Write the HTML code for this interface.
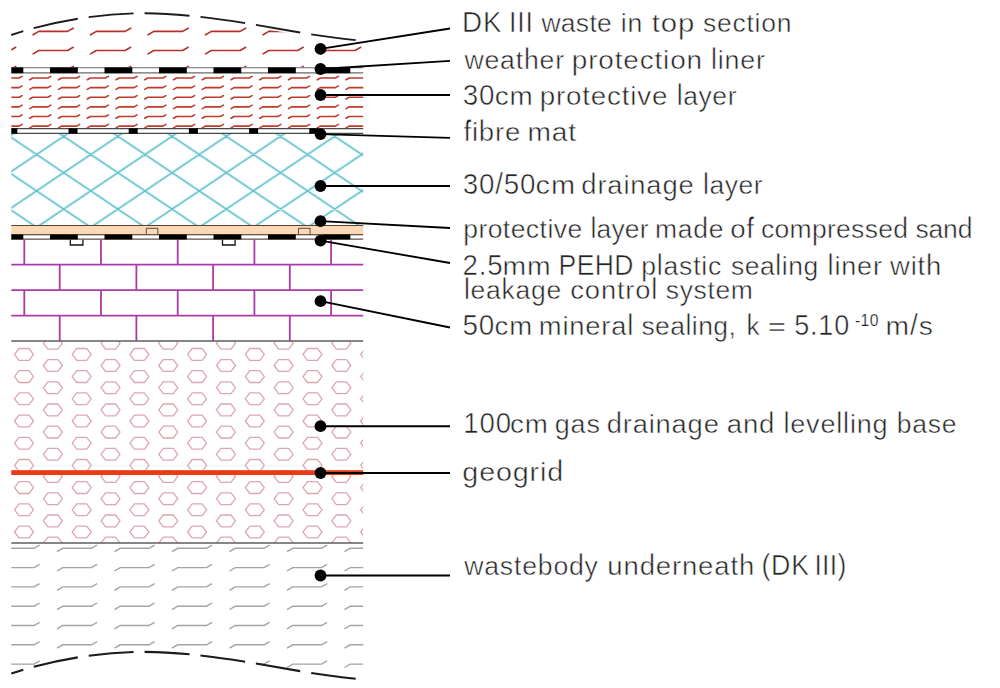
<!DOCTYPE html>
<html><head><meta charset="utf-8"><title>Landfill capping cross-section</title>
<style>
html,body{margin:0;padding:0;background:#fff;}
body{width:1000px;height:688px;overflow:hidden;font-family:"Liberation Sans",sans-serif;}
svg{display:block;}
text{font-family:"Liberation Sans",sans-serif;fill:#242424;}
</style></head><body>
<svg width="1000" height="688" viewBox="0 0 1000 688">
<rect width="1000" height="688" fill="#fff"/>
<defs>
<clipPath id="cTop"><path transform="translate(0,2.5)" d="M-30,54 C-10,44 0,39 11.3,35 C40,25 90,13.6 140,13.3 C195,13 250,24 300,32.5 C320,36 340,38.5 357,40.3 L380,42 L380,65 L-30,65 Z"/></clipPath>
<clipPath id="cBox"><rect x="11.3" y="0" width="351.9" height="688"/></clipPath>
<clipPath id="cProt"><rect x="11.3" y="73" width="351.9" height="55.5"/></clipPath>
<clipPath id="cDrain"><rect x="11.3" y="133.5" width="351.9" height="92"/></clipPath>
<clipPath id="cHex"><rect x="11.3" y="341" width="351.9" height="202"/></clipPath>
<clipPath id="cBot"><path d="M11.3,543 L363.2,543 L363.2,681 C340,677 320,674.6 300,671.1 C250,662.6 195,651.6 140,651.9 C90,652.2 40,663.6 11.3,673.6 Z"/></clipPath>
<filter id="soft" x="-2%" y="-2%" width="104%" height="104%"><feGaussianBlur stdDeviation="0.38"/></filter>
</defs>
<g filter="url(#soft)">
<g clip-path="url(#cBox)"><path clip-path="url(#cTop)" d="M-24.40,34.80 L-18.70,31.40 L10.10,31.40 L15.70,28.20 M33.10,34.80 L38.80,31.40 L67.60,31.40 L73.20,28.20 M90.60,34.80 L96.30,31.40 L125.10,31.40 L130.70,28.20 M148.10,34.80 L153.80,31.40 L182.60,31.40 L188.20,28.20 M205.60,34.80 L211.30,31.40 L240.10,31.40 L245.70,28.20 M263.10,34.80 L268.80,31.40 L297.60,31.40 L303.20,28.20 M320.60,34.80 L326.30,31.40 L355.10,31.40 L360.70,28.20 M378.10,34.80 L383.80,31.40 L412.60,31.40 L418.20,28.20 M435.60,34.80 L441.30,31.40 L470.10,31.40 L475.70,28.20 M-24.40,53.90 L-18.70,50.50 L10.10,50.50 L15.70,47.30 M33.10,53.90 L38.80,50.50 L67.60,50.50 L73.20,47.30 M90.60,53.90 L96.30,50.50 L125.10,50.50 L130.70,47.30 M148.10,53.90 L153.80,50.50 L182.60,50.50 L188.20,47.30 M205.60,53.90 L211.30,50.50 L240.10,50.50 L245.70,47.30 M263.10,53.90 L268.80,50.50 L297.60,50.50 L303.20,47.30 M320.60,53.90 L326.30,50.50 L355.10,50.50 L360.70,47.30 M378.10,53.90 L383.80,50.50 L412.60,50.50 L418.20,47.30 M435.60,53.90 L441.30,50.50 L470.10,50.50 L475.70,47.30 M-24.40,73.00 L-18.70,69.60 L10.10,69.60 L15.70,66.40 M33.10,73.00 L38.80,69.60 L67.60,69.60 L73.20,66.40 M90.60,73.00 L96.30,69.60 L125.10,69.60 L130.70,66.40 M148.10,73.00 L153.80,69.60 L182.60,69.60 L188.20,66.40 M205.60,73.00 L211.30,69.60 L240.10,69.60 L245.70,66.40 M263.10,73.00 L268.80,69.60 L297.60,69.60 L303.20,66.40 M320.60,73.00 L326.30,69.60 L355.10,69.60 L360.70,66.40 M378.10,73.00 L383.80,69.60 L412.60,69.60 L418.20,66.40 M435.60,73.00 L441.30,69.60 L470.10,69.60 L475.70,66.40" fill="none" stroke="#b3322a" stroke-width="1.6" stroke-linejoin="round" stroke-linecap="round"/></g>
<path clip-path="url(#cProt)" d="M1.05,79.78 L4.04,78.00 L19.16,78.00 L22.10,76.32 M29.80,79.78 L32.79,78.00 L47.91,78.00 L50.85,76.32 M58.55,79.78 L61.54,78.00 L76.66,78.00 L79.60,76.32 M87.30,79.78 L90.29,78.00 L105.41,78.00 L108.35,76.32 M116.05,79.78 L119.04,78.00 L134.16,78.00 L137.10,76.32 M144.80,79.78 L147.79,78.00 L162.91,78.00 L165.85,76.32 M173.55,79.78 L176.54,78.00 L191.66,78.00 L194.60,76.32 M202.30,79.78 L205.29,78.00 L220.41,78.00 L223.35,76.32 M231.05,79.78 L234.04,78.00 L249.16,78.00 L252.10,76.32 M259.80,79.78 L262.79,78.00 L277.91,78.00 L280.85,76.32 M288.55,79.78 L291.54,78.00 L306.66,78.00 L309.60,76.32 M317.30,79.78 L320.29,78.00 L335.41,78.00 L338.35,76.32 M346.05,79.78 L349.04,78.00 L364.16,78.00 L367.10,76.32 M374.80,79.78 L377.79,78.00 L392.91,78.00 L395.85,76.32 M403.55,79.78 L406.54,78.00 L421.66,78.00 L424.60,76.32 M1.05,89.41 L4.04,87.62 L19.16,87.62 L22.10,85.94 M29.80,89.41 L32.79,87.62 L47.91,87.62 L50.85,85.94 M58.55,89.41 L61.54,87.62 L76.66,87.62 L79.60,85.94 M87.30,89.41 L90.29,87.62 L105.41,87.62 L108.35,85.94 M116.05,89.41 L119.04,87.62 L134.16,87.62 L137.10,85.94 M144.80,89.41 L147.79,87.62 L162.91,87.62 L165.85,85.94 M173.55,89.41 L176.54,87.62 L191.66,87.62 L194.60,85.94 M202.30,89.41 L205.29,87.62 L220.41,87.62 L223.35,85.94 M231.05,89.41 L234.04,87.62 L249.16,87.62 L252.10,85.94 M259.80,89.41 L262.79,87.62 L277.91,87.62 L280.85,85.94 M288.55,89.41 L291.54,87.62 L306.66,87.62 L309.60,85.94 M317.30,89.41 L320.29,87.62 L335.41,87.62 L338.35,85.94 M346.05,89.41 L349.04,87.62 L364.16,87.62 L367.10,85.94 M374.80,89.41 L377.79,87.62 L392.91,87.62 L395.85,85.94 M403.55,89.41 L406.54,87.62 L421.66,87.62 L424.60,85.94 M1.05,99.02 L4.04,97.24 L19.16,97.24 L22.10,95.56 M29.80,99.02 L32.79,97.24 L47.91,97.24 L50.85,95.56 M58.55,99.02 L61.54,97.24 L76.66,97.24 L79.60,95.56 M87.30,99.02 L90.29,97.24 L105.41,97.24 L108.35,95.56 M116.05,99.02 L119.04,97.24 L134.16,97.24 L137.10,95.56 M144.80,99.02 L147.79,97.24 L162.91,97.24 L165.85,95.56 M173.55,99.02 L176.54,97.24 L191.66,97.24 L194.60,95.56 M202.30,99.02 L205.29,97.24 L220.41,97.24 L223.35,95.56 M231.05,99.02 L234.04,97.24 L249.16,97.24 L252.10,95.56 M259.80,99.02 L262.79,97.24 L277.91,97.24 L280.85,95.56 M288.55,99.02 L291.54,97.24 L306.66,97.24 L309.60,95.56 M317.30,99.02 L320.29,97.24 L335.41,97.24 L338.35,95.56 M346.05,99.02 L349.04,97.24 L364.16,97.24 L367.10,95.56 M374.80,99.02 L377.79,97.24 L392.91,97.24 L395.85,95.56 M403.55,99.02 L406.54,97.24 L421.66,97.24 L424.60,95.56 M1.05,108.64 L4.04,106.86 L19.16,106.86 L22.10,105.18 M29.80,108.64 L32.79,106.86 L47.91,106.86 L50.85,105.18 M58.55,108.64 L61.54,106.86 L76.66,106.86 L79.60,105.18 M87.30,108.64 L90.29,106.86 L105.41,106.86 L108.35,105.18 M116.05,108.64 L119.04,106.86 L134.16,106.86 L137.10,105.18 M144.80,108.64 L147.79,106.86 L162.91,106.86 L165.85,105.18 M173.55,108.64 L176.54,106.86 L191.66,106.86 L194.60,105.18 M202.30,108.64 L205.29,106.86 L220.41,106.86 L223.35,105.18 M231.05,108.64 L234.04,106.86 L249.16,106.86 L252.10,105.18 M259.80,108.64 L262.79,106.86 L277.91,106.86 L280.85,105.18 M288.55,108.64 L291.54,106.86 L306.66,106.86 L309.60,105.18 M317.30,108.64 L320.29,106.86 L335.41,106.86 L338.35,105.18 M346.05,108.64 L349.04,106.86 L364.16,106.86 L367.10,105.18 M374.80,108.64 L377.79,106.86 L392.91,106.86 L395.85,105.18 M403.55,108.64 L406.54,106.86 L421.66,106.86 L424.60,105.18 M1.05,118.26 L4.04,116.48 L19.16,116.48 L22.10,114.80 M29.80,118.26 L32.79,116.48 L47.91,116.48 L50.85,114.80 M58.55,118.26 L61.54,116.48 L76.66,116.48 L79.60,114.80 M87.30,118.26 L90.29,116.48 L105.41,116.48 L108.35,114.80 M116.05,118.26 L119.04,116.48 L134.16,116.48 L137.10,114.80 M144.80,118.26 L147.79,116.48 L162.91,116.48 L165.85,114.80 M173.55,118.26 L176.54,116.48 L191.66,116.48 L194.60,114.80 M202.30,118.26 L205.29,116.48 L220.41,116.48 L223.35,114.80 M231.05,118.26 L234.04,116.48 L249.16,116.48 L252.10,114.80 M259.80,118.26 L262.79,116.48 L277.91,116.48 L280.85,114.80 M288.55,118.26 L291.54,116.48 L306.66,116.48 L309.60,114.80 M317.30,118.26 L320.29,116.48 L335.41,116.48 L338.35,114.80 M346.05,118.26 L349.04,116.48 L364.16,116.48 L367.10,114.80 M374.80,118.26 L377.79,116.48 L392.91,116.48 L395.85,114.80 M403.55,118.26 L406.54,116.48 L421.66,116.48 L424.60,114.80 M1.05,127.88 L4.04,126.10 L19.16,126.10 L22.10,124.42 M29.80,127.88 L32.79,126.10 L47.91,126.10 L50.85,124.42 M58.55,127.88 L61.54,126.10 L76.66,126.10 L79.60,124.42 M87.30,127.88 L90.29,126.10 L105.41,126.10 L108.35,124.42 M116.05,127.88 L119.04,126.10 L134.16,126.10 L137.10,124.42 M144.80,127.88 L147.79,126.10 L162.91,126.10 L165.85,124.42 M173.55,127.88 L176.54,126.10 L191.66,126.10 L194.60,124.42 M202.30,127.88 L205.29,126.10 L220.41,126.10 L223.35,124.42 M231.05,127.88 L234.04,126.10 L249.16,126.10 L252.10,124.42 M259.80,127.88 L262.79,126.10 L277.91,126.10 L280.85,124.42 M288.55,127.88 L291.54,126.10 L306.66,126.10 L309.60,124.42 M317.30,127.88 L320.29,126.10 L335.41,126.10 L338.35,124.42 M346.05,127.88 L349.04,126.10 L364.16,126.10 L367.10,124.42 M374.80,127.88 L377.79,126.10 L392.91,126.10 L395.85,124.42 M403.55,127.88 L406.54,126.10 L421.66,126.10 L424.60,124.42 M1.05,137.50 L4.04,135.72 L19.16,135.72 L22.10,134.04 M29.80,137.50 L32.79,135.72 L47.91,135.72 L50.85,134.04 M58.55,137.50 L61.54,135.72 L76.66,135.72 L79.60,134.04 M87.30,137.50 L90.29,135.72 L105.41,135.72 L108.35,134.04 M116.05,137.50 L119.04,135.72 L134.16,135.72 L137.10,134.04 M144.80,137.50 L147.79,135.72 L162.91,135.72 L165.85,134.04 M173.55,137.50 L176.54,135.72 L191.66,135.72 L194.60,134.04 M202.30,137.50 L205.29,135.72 L220.41,135.72 L223.35,134.04 M231.05,137.50 L234.04,135.72 L249.16,135.72 L252.10,134.04 M259.80,137.50 L262.79,135.72 L277.91,135.72 L280.85,134.04 M288.55,137.50 L291.54,135.72 L306.66,135.72 L309.60,134.04 M317.30,137.50 L320.29,135.72 L335.41,135.72 L338.35,134.04 M346.05,137.50 L349.04,135.72 L364.16,135.72 L367.10,134.04 M374.80,137.50 L377.79,135.72 L392.91,135.72 L395.85,134.04 M403.55,137.50 L406.54,135.72 L421.66,135.72 L424.60,134.04" fill="none" stroke="#c13a29" stroke-width="1.55" stroke-linejoin="round" stroke-linecap="round"/>
<g clip-path="url(#cDrain)"><path d="M-382.26,128 L-230.38,230 M-357.54,128 L-509.42,230 M-328.06,128 L-176.18,230 M-303.34,128 L-455.22,230 M-273.86,128 L-121.98,230 M-249.14,128 L-401.02,230 M-219.66,128 L-67.78,230 M-194.94,128 L-346.82,230 M-165.46,128 L-13.58,230 M-140.74,128 L-292.62,230 M-111.26,128 L40.62,230 M-86.54,128 L-238.42,230 M-57.06,128 L94.82,230 M-32.34,128 L-184.22,230 M-2.86,128 L149.02,230 M21.86,128 L-130.02,230 M51.34,128 L203.22,230 M76.06,128 L-75.82,230 M105.54,128 L257.42,230 M130.26,128 L-21.62,230 M159.74,128 L311.62,230 M184.46,128 L32.58,230 M213.94,128 L365.82,230 M238.66,128 L86.78,230 M268.14,128 L420.02,230 M292.86,128 L140.98,230 M322.34,128 L474.22,230 M347.06,128 L195.18,230 M376.54,128 L528.42,230 M401.26,128 L249.38,230 M430.74,128 L582.62,230 M455.46,128 L303.58,230 M484.94,128 L636.82,230 M509.66,128 L357.78,230 M539.14,128 L691.02,230 M563.86,128 L411.98,230 M593.34,128 L745.22,230 M618.06,128 L466.18,230 M647.54,128 L799.42,230 M672.26,128 L520.38,230 M701.74,128 L853.62,230 M726.46,128 L574.58,230 M755.94,128 L907.82,230 M780.66,128 L628.78,230 M810.14,128 L962.02,230 M834.86,128 L682.98,230 M864.34,128 L1016.22,230 M889.06,128 L737.18,230" fill="none" stroke="#d3eff4" stroke-width="3.2"/><path d="M-382.26,128 L-230.38,230 M-357.54,128 L-509.42,230 M-328.06,128 L-176.18,230 M-303.34,128 L-455.22,230 M-273.86,128 L-121.98,230 M-249.14,128 L-401.02,230 M-219.66,128 L-67.78,230 M-194.94,128 L-346.82,230 M-165.46,128 L-13.58,230 M-140.74,128 L-292.62,230 M-111.26,128 L40.62,230 M-86.54,128 L-238.42,230 M-57.06,128 L94.82,230 M-32.34,128 L-184.22,230 M-2.86,128 L149.02,230 M21.86,128 L-130.02,230 M51.34,128 L203.22,230 M76.06,128 L-75.82,230 M105.54,128 L257.42,230 M130.26,128 L-21.62,230 M159.74,128 L311.62,230 M184.46,128 L32.58,230 M213.94,128 L365.82,230 M238.66,128 L86.78,230 M268.14,128 L420.02,230 M292.86,128 L140.98,230 M322.34,128 L474.22,230 M347.06,128 L195.18,230 M376.54,128 L528.42,230 M401.26,128 L249.38,230 M430.74,128 L582.62,230 M455.46,128 L303.58,230 M484.94,128 L636.82,230 M509.66,128 L357.78,230 M539.14,128 L691.02,230 M563.86,128 L411.98,230 M593.34,128 L745.22,230 M618.06,128 L466.18,230 M647.54,128 L799.42,230 M672.26,128 L520.38,230 M701.74,128 L853.62,230 M726.46,128 L574.58,230 M755.94,128 L907.82,230 M780.66,128 L628.78,230 M810.14,128 L962.02,230 M834.86,128 L682.98,230 M864.34,128 L1016.22,230 M889.06,128 L737.18,230" fill="none" stroke="#64c1cd" stroke-width="1.25"/></g>
<rect x="11.3" y="67.4" width="351.9" height="5.799999999999997" fill="#fff"/><path d="M11.3,67.7 H363.2" stroke="#6a6a6a" stroke-width="1.1" fill="none"/><path d="M11.3,72.9 H363.2" stroke="#6a6a6a" stroke-width="1.1" fill="none"/><rect x="11.30" y="67.4" width="12.00" height="5.799999999999997" fill="#000"/><rect x="50.00" y="67.4" width="27.80" height="5.799999999999997" fill="#000"/><rect x="104.50" y="67.4" width="27.80" height="5.799999999999997" fill="#000"/><rect x="159.00" y="67.4" width="27.80" height="5.799999999999997" fill="#000"/><rect x="213.50" y="67.4" width="27.80" height="5.799999999999997" fill="#000"/><rect x="268.00" y="67.4" width="27.80" height="5.799999999999997" fill="#000"/><rect x="322.50" y="67.4" width="27.80" height="5.799999999999997" fill="#000"/><rect x="377.00" y="67.4" width="-13.80" height="5.799999999999997" fill="#000"/>
<rect x="11.3" y="128.3" width="351.9" height="5.3" fill="#fff"/>
<path d="M11.3,128.6 H363.2 M11.3,133.4 H363.2" stroke="#4a4a4a" stroke-width="1.1" fill="none"/>
<rect x="11.30" y="128.3" width="6.00" height="5.3" fill="#000"/>
<rect x="68.50" y="128.3" width="9.00" height="5.3" fill="#000"/>
<rect x="128.70" y="128.3" width="9.00" height="5.3" fill="#000"/>
<rect x="188.90" y="128.3" width="9.00" height="5.3" fill="#000"/>
<rect x="249.10" y="128.3" width="9.00" height="5.3" fill="#000"/>
<rect x="309.30" y="128.3" width="9.00" height="5.3" fill="#000"/>
<rect x="11.3" y="225.3" width="351.9" height="9.3" fill="#fcd9b6"/>
<path d="M11.3,225.5 H363.2" stroke="#5a4030" stroke-width="1.1"/>
<path d="M146.3,234.6 V228.3 H157.9 V234.6" fill="#fcd9b6" stroke="#4a3a30" stroke-width="0.9"/>
<path d="M298.5,234.6 V228.3 H310.1 V234.6" fill="#fcd9b6" stroke="#4a3a30" stroke-width="0.9"/>
<path d="M11.3,264.6 H363.2 M11.3,290.1 H363.2 M11.3,315.6 H363.2 M24.30,239.3 V264.6 M101.00,239.3 V264.6 M177.70,239.3 V264.6 M254.40,239.3 V264.6 M331.10,239.3 V264.6 M59.70,264.6 V290.1 M136.40,264.6 V290.1 M213.10,264.6 V290.1 M289.80,264.6 V290.1 M24.30,290.1 V315.6 M101.00,290.1 V315.6 M177.70,290.1 V315.6 M254.40,290.1 V315.6 M331.10,290.1 V315.6 M59.70,315.6 V341.0 M136.40,315.6 V341.0 M213.10,315.6 V341.0 M289.80,315.6 V341.0" fill="none" stroke="#ab3aa6" stroke-width="1.8"/>
<path d="M70.3,239 V245 H82.89999999999999 V239" fill="#fff" stroke="#151515" stroke-width="1.3"/>
<path d="M222.5,239 V245 H235.1 V239" fill="#fff" stroke="#151515" stroke-width="1.3"/>
<rect x="11.3" y="234.5" width="351.9" height="4.900000000000006" fill="#fff"/><path d="M11.3,234.8 H363.2" stroke="#35271e" stroke-width="1.1" fill="none"/><path d="M11.3,239.1 H363.2" stroke="#5a5252" stroke-width="1.1" fill="none"/><rect x="11.30" y="234.5" width="12.00" height="4.900000000000006" fill="#000"/><rect x="50.00" y="234.5" width="27.80" height="4.900000000000006" fill="#000"/><rect x="104.50" y="234.5" width="27.80" height="4.900000000000006" fill="#000"/><rect x="159.00" y="234.5" width="27.80" height="4.900000000000006" fill="#000"/><rect x="213.50" y="234.5" width="27.80" height="4.900000000000006" fill="#000"/><rect x="268.00" y="234.5" width="27.80" height="4.900000000000006" fill="#000"/><rect x="322.50" y="234.5" width="27.80" height="4.900000000000006" fill="#000"/><rect x="377.00" y="234.5" width="-13.80" height="4.900000000000006" fill="#000"/>
<path clip-path="url(#cHex)" d="M-43.20,332.20 L-38.70,326.30 L-28.70,326.30 L-24.20,332.20 L-28.70,338.10 L-38.70,338.10 Z M-14.35,321.10 L-9.85,315.20 L0.15,315.20 L4.65,321.10 L0.15,327.00 L-9.85,327.00 Z M-43.20,354.40 L-38.70,348.50 L-28.70,348.50 L-24.20,354.40 L-28.70,360.30 L-38.70,360.30 Z M-14.35,343.30 L-9.85,337.40 L0.15,337.40 L4.65,343.30 L0.15,349.20 L-9.85,349.20 Z M-43.20,376.60 L-38.70,370.70 L-28.70,370.70 L-24.20,376.60 L-28.70,382.50 L-38.70,382.50 Z M-14.35,365.50 L-9.85,359.60 L0.15,359.60 L4.65,365.50 L0.15,371.40 L-9.85,371.40 Z M-43.20,398.80 L-38.70,392.90 L-28.70,392.90 L-24.20,398.80 L-28.70,404.70 L-38.70,404.70 Z M-14.35,387.70 L-9.85,381.80 L0.15,381.80 L4.65,387.70 L0.15,393.60 L-9.85,393.60 Z M-43.20,421.00 L-38.70,415.10 L-28.70,415.10 L-24.20,421.00 L-28.70,426.90 L-38.70,426.90 Z M-14.35,409.90 L-9.85,404.00 L0.15,404.00 L4.65,409.90 L0.15,415.80 L-9.85,415.80 Z M-43.20,443.20 L-38.70,437.30 L-28.70,437.30 L-24.20,443.20 L-28.70,449.10 L-38.70,449.10 Z M-14.35,432.10 L-9.85,426.20 L0.15,426.20 L4.65,432.10 L0.15,438.00 L-9.85,438.00 Z M-43.20,465.40 L-38.70,459.50 L-28.70,459.50 L-24.20,465.40 L-28.70,471.30 L-38.70,471.30 Z M-14.35,454.30 L-9.85,448.40 L0.15,448.40 L4.65,454.30 L0.15,460.20 L-9.85,460.20 Z M-43.20,487.60 L-38.70,481.70 L-28.70,481.70 L-24.20,487.60 L-28.70,493.50 L-38.70,493.50 Z M-14.35,476.50 L-9.85,470.60 L0.15,470.60 L4.65,476.50 L0.15,482.40 L-9.85,482.40 Z M-43.20,509.80 L-38.70,503.90 L-28.70,503.90 L-24.20,509.80 L-28.70,515.70 L-38.70,515.70 Z M-14.35,498.70 L-9.85,492.80 L0.15,492.80 L4.65,498.70 L0.15,504.60 L-9.85,504.60 Z M-43.20,532.00 L-38.70,526.10 L-28.70,526.10 L-24.20,532.00 L-28.70,537.90 L-38.70,537.90 Z M-14.35,520.90 L-9.85,515.00 L0.15,515.00 L4.65,520.90 L0.15,526.80 L-9.85,526.80 Z M-43.20,554.20 L-38.70,548.30 L-28.70,548.30 L-24.20,554.20 L-28.70,560.10 L-38.70,560.10 Z M-14.35,543.10 L-9.85,537.20 L0.15,537.20 L4.65,543.10 L0.15,549.00 L-9.85,549.00 Z M-43.20,576.40 L-38.70,570.50 L-28.70,570.50 L-24.20,576.40 L-28.70,582.30 L-38.70,582.30 Z M-14.35,565.30 L-9.85,559.40 L0.15,559.40 L4.65,565.30 L0.15,571.20 L-9.85,571.20 Z M14.50,332.20 L19.00,326.30 L29.00,326.30 L33.50,332.20 L29.00,338.10 L19.00,338.10 Z M43.35,321.10 L47.85,315.20 L57.85,315.20 L62.35,321.10 L57.85,327.00 L47.85,327.00 Z M14.50,354.40 L19.00,348.50 L29.00,348.50 L33.50,354.40 L29.00,360.30 L19.00,360.30 Z M43.35,343.30 L47.85,337.40 L57.85,337.40 L62.35,343.30 L57.85,349.20 L47.85,349.20 Z M14.50,376.60 L19.00,370.70 L29.00,370.70 L33.50,376.60 L29.00,382.50 L19.00,382.50 Z M43.35,365.50 L47.85,359.60 L57.85,359.60 L62.35,365.50 L57.85,371.40 L47.85,371.40 Z M14.50,398.80 L19.00,392.90 L29.00,392.90 L33.50,398.80 L29.00,404.70 L19.00,404.70 Z M43.35,387.70 L47.85,381.80 L57.85,381.80 L62.35,387.70 L57.85,393.60 L47.85,393.60 Z M14.50,421.00 L19.00,415.10 L29.00,415.10 L33.50,421.00 L29.00,426.90 L19.00,426.90 Z M43.35,409.90 L47.85,404.00 L57.85,404.00 L62.35,409.90 L57.85,415.80 L47.85,415.80 Z M14.50,443.20 L19.00,437.30 L29.00,437.30 L33.50,443.20 L29.00,449.10 L19.00,449.10 Z M43.35,432.10 L47.85,426.20 L57.85,426.20 L62.35,432.10 L57.85,438.00 L47.85,438.00 Z M14.50,465.40 L19.00,459.50 L29.00,459.50 L33.50,465.40 L29.00,471.30 L19.00,471.30 Z M43.35,454.30 L47.85,448.40 L57.85,448.40 L62.35,454.30 L57.85,460.20 L47.85,460.20 Z M14.50,487.60 L19.00,481.70 L29.00,481.70 L33.50,487.60 L29.00,493.50 L19.00,493.50 Z M43.35,476.50 L47.85,470.60 L57.85,470.60 L62.35,476.50 L57.85,482.40 L47.85,482.40 Z M14.50,509.80 L19.00,503.90 L29.00,503.90 L33.50,509.80 L29.00,515.70 L19.00,515.70 Z M43.35,498.70 L47.85,492.80 L57.85,492.80 L62.35,498.70 L57.85,504.60 L47.85,504.60 Z M14.50,532.00 L19.00,526.10 L29.00,526.10 L33.50,532.00 L29.00,537.90 L19.00,537.90 Z M43.35,520.90 L47.85,515.00 L57.85,515.00 L62.35,520.90 L57.85,526.80 L47.85,526.80 Z M14.50,554.20 L19.00,548.30 L29.00,548.30 L33.50,554.20 L29.00,560.10 L19.00,560.10 Z M43.35,543.10 L47.85,537.20 L57.85,537.20 L62.35,543.10 L57.85,549.00 L47.85,549.00 Z M14.50,576.40 L19.00,570.50 L29.00,570.50 L33.50,576.40 L29.00,582.30 L19.00,582.30 Z M43.35,565.30 L47.85,559.40 L57.85,559.40 L62.35,565.30 L57.85,571.20 L47.85,571.20 Z M72.20,332.20 L76.70,326.30 L86.70,326.30 L91.20,332.20 L86.70,338.10 L76.70,338.10 Z M101.05,321.10 L105.55,315.20 L115.55,315.20 L120.05,321.10 L115.55,327.00 L105.55,327.00 Z M72.20,354.40 L76.70,348.50 L86.70,348.50 L91.20,354.40 L86.70,360.30 L76.70,360.30 Z M101.05,343.30 L105.55,337.40 L115.55,337.40 L120.05,343.30 L115.55,349.20 L105.55,349.20 Z M72.20,376.60 L76.70,370.70 L86.70,370.70 L91.20,376.60 L86.70,382.50 L76.70,382.50 Z M101.05,365.50 L105.55,359.60 L115.55,359.60 L120.05,365.50 L115.55,371.40 L105.55,371.40 Z M72.20,398.80 L76.70,392.90 L86.70,392.90 L91.20,398.80 L86.70,404.70 L76.70,404.70 Z M101.05,387.70 L105.55,381.80 L115.55,381.80 L120.05,387.70 L115.55,393.60 L105.55,393.60 Z M72.20,421.00 L76.70,415.10 L86.70,415.10 L91.20,421.00 L86.70,426.90 L76.70,426.90 Z M101.05,409.90 L105.55,404.00 L115.55,404.00 L120.05,409.90 L115.55,415.80 L105.55,415.80 Z M72.20,443.20 L76.70,437.30 L86.70,437.30 L91.20,443.20 L86.70,449.10 L76.70,449.10 Z M101.05,432.10 L105.55,426.20 L115.55,426.20 L120.05,432.10 L115.55,438.00 L105.55,438.00 Z M72.20,465.40 L76.70,459.50 L86.70,459.50 L91.20,465.40 L86.70,471.30 L76.70,471.30 Z M101.05,454.30 L105.55,448.40 L115.55,448.40 L120.05,454.30 L115.55,460.20 L105.55,460.20 Z M72.20,487.60 L76.70,481.70 L86.70,481.70 L91.20,487.60 L86.70,493.50 L76.70,493.50 Z M101.05,476.50 L105.55,470.60 L115.55,470.60 L120.05,476.50 L115.55,482.40 L105.55,482.40 Z M72.20,509.80 L76.70,503.90 L86.70,503.90 L91.20,509.80 L86.70,515.70 L76.70,515.70 Z M101.05,498.70 L105.55,492.80 L115.55,492.80 L120.05,498.70 L115.55,504.60 L105.55,504.60 Z M72.20,532.00 L76.70,526.10 L86.70,526.10 L91.20,532.00 L86.70,537.90 L76.70,537.90 Z M101.05,520.90 L105.55,515.00 L115.55,515.00 L120.05,520.90 L115.55,526.80 L105.55,526.80 Z M72.20,554.20 L76.70,548.30 L86.70,548.30 L91.20,554.20 L86.70,560.10 L76.70,560.10 Z M101.05,543.10 L105.55,537.20 L115.55,537.20 L120.05,543.10 L115.55,549.00 L105.55,549.00 Z M72.20,576.40 L76.70,570.50 L86.70,570.50 L91.20,576.40 L86.70,582.30 L76.70,582.30 Z M101.05,565.30 L105.55,559.40 L115.55,559.40 L120.05,565.30 L115.55,571.20 L105.55,571.20 Z M129.90,332.20 L134.40,326.30 L144.40,326.30 L148.90,332.20 L144.40,338.10 L134.40,338.10 Z M158.75,321.10 L163.25,315.20 L173.25,315.20 L177.75,321.10 L173.25,327.00 L163.25,327.00 Z M129.90,354.40 L134.40,348.50 L144.40,348.50 L148.90,354.40 L144.40,360.30 L134.40,360.30 Z M158.75,343.30 L163.25,337.40 L173.25,337.40 L177.75,343.30 L173.25,349.20 L163.25,349.20 Z M129.90,376.60 L134.40,370.70 L144.40,370.70 L148.90,376.60 L144.40,382.50 L134.40,382.50 Z M158.75,365.50 L163.25,359.60 L173.25,359.60 L177.75,365.50 L173.25,371.40 L163.25,371.40 Z M129.90,398.80 L134.40,392.90 L144.40,392.90 L148.90,398.80 L144.40,404.70 L134.40,404.70 Z M158.75,387.70 L163.25,381.80 L173.25,381.80 L177.75,387.70 L173.25,393.60 L163.25,393.60 Z M129.90,421.00 L134.40,415.10 L144.40,415.10 L148.90,421.00 L144.40,426.90 L134.40,426.90 Z M158.75,409.90 L163.25,404.00 L173.25,404.00 L177.75,409.90 L173.25,415.80 L163.25,415.80 Z M129.90,443.20 L134.40,437.30 L144.40,437.30 L148.90,443.20 L144.40,449.10 L134.40,449.10 Z M158.75,432.10 L163.25,426.20 L173.25,426.20 L177.75,432.10 L173.25,438.00 L163.25,438.00 Z M129.90,465.40 L134.40,459.50 L144.40,459.50 L148.90,465.40 L144.40,471.30 L134.40,471.30 Z M158.75,454.30 L163.25,448.40 L173.25,448.40 L177.75,454.30 L173.25,460.20 L163.25,460.20 Z M129.90,487.60 L134.40,481.70 L144.40,481.70 L148.90,487.60 L144.40,493.50 L134.40,493.50 Z M158.75,476.50 L163.25,470.60 L173.25,470.60 L177.75,476.50 L173.25,482.40 L163.25,482.40 Z M129.90,509.80 L134.40,503.90 L144.40,503.90 L148.90,509.80 L144.40,515.70 L134.40,515.70 Z M158.75,498.70 L163.25,492.80 L173.25,492.80 L177.75,498.70 L173.25,504.60 L163.25,504.60 Z M129.90,532.00 L134.40,526.10 L144.40,526.10 L148.90,532.00 L144.40,537.90 L134.40,537.90 Z M158.75,520.90 L163.25,515.00 L173.25,515.00 L177.75,520.90 L173.25,526.80 L163.25,526.80 Z M129.90,554.20 L134.40,548.30 L144.40,548.30 L148.90,554.20 L144.40,560.10 L134.40,560.10 Z M158.75,543.10 L163.25,537.20 L173.25,537.20 L177.75,543.10 L173.25,549.00 L163.25,549.00 Z M129.90,576.40 L134.40,570.50 L144.40,570.50 L148.90,576.40 L144.40,582.30 L134.40,582.30 Z M158.75,565.30 L163.25,559.40 L173.25,559.40 L177.75,565.30 L173.25,571.20 L163.25,571.20 Z M187.60,332.20 L192.10,326.30 L202.10,326.30 L206.60,332.20 L202.10,338.10 L192.10,338.10 Z M216.45,321.10 L220.95,315.20 L230.95,315.20 L235.45,321.10 L230.95,327.00 L220.95,327.00 Z M187.60,354.40 L192.10,348.50 L202.10,348.50 L206.60,354.40 L202.10,360.30 L192.10,360.30 Z M216.45,343.30 L220.95,337.40 L230.95,337.40 L235.45,343.30 L230.95,349.20 L220.95,349.20 Z M187.60,376.60 L192.10,370.70 L202.10,370.70 L206.60,376.60 L202.10,382.50 L192.10,382.50 Z M216.45,365.50 L220.95,359.60 L230.95,359.60 L235.45,365.50 L230.95,371.40 L220.95,371.40 Z M187.60,398.80 L192.10,392.90 L202.10,392.90 L206.60,398.80 L202.10,404.70 L192.10,404.70 Z M216.45,387.70 L220.95,381.80 L230.95,381.80 L235.45,387.70 L230.95,393.60 L220.95,393.60 Z M187.60,421.00 L192.10,415.10 L202.10,415.10 L206.60,421.00 L202.10,426.90 L192.10,426.90 Z M216.45,409.90 L220.95,404.00 L230.95,404.00 L235.45,409.90 L230.95,415.80 L220.95,415.80 Z M187.60,443.20 L192.10,437.30 L202.10,437.30 L206.60,443.20 L202.10,449.10 L192.10,449.10 Z M216.45,432.10 L220.95,426.20 L230.95,426.20 L235.45,432.10 L230.95,438.00 L220.95,438.00 Z M187.60,465.40 L192.10,459.50 L202.10,459.50 L206.60,465.40 L202.10,471.30 L192.10,471.30 Z M216.45,454.30 L220.95,448.40 L230.95,448.40 L235.45,454.30 L230.95,460.20 L220.95,460.20 Z M187.60,487.60 L192.10,481.70 L202.10,481.70 L206.60,487.60 L202.10,493.50 L192.10,493.50 Z M216.45,476.50 L220.95,470.60 L230.95,470.60 L235.45,476.50 L230.95,482.40 L220.95,482.40 Z M187.60,509.80 L192.10,503.90 L202.10,503.90 L206.60,509.80 L202.10,515.70 L192.10,515.70 Z M216.45,498.70 L220.95,492.80 L230.95,492.80 L235.45,498.70 L230.95,504.60 L220.95,504.60 Z M187.60,532.00 L192.10,526.10 L202.10,526.10 L206.60,532.00 L202.10,537.90 L192.10,537.90 Z M216.45,520.90 L220.95,515.00 L230.95,515.00 L235.45,520.90 L230.95,526.80 L220.95,526.80 Z M187.60,554.20 L192.10,548.30 L202.10,548.30 L206.60,554.20 L202.10,560.10 L192.10,560.10 Z M216.45,543.10 L220.95,537.20 L230.95,537.20 L235.45,543.10 L230.95,549.00 L220.95,549.00 Z M187.60,576.40 L192.10,570.50 L202.10,570.50 L206.60,576.40 L202.10,582.30 L192.10,582.30 Z M216.45,565.30 L220.95,559.40 L230.95,559.40 L235.45,565.30 L230.95,571.20 L220.95,571.20 Z M245.30,332.20 L249.80,326.30 L259.80,326.30 L264.30,332.20 L259.80,338.10 L249.80,338.10 Z M274.15,321.10 L278.65,315.20 L288.65,315.20 L293.15,321.10 L288.65,327.00 L278.65,327.00 Z M245.30,354.40 L249.80,348.50 L259.80,348.50 L264.30,354.40 L259.80,360.30 L249.80,360.30 Z M274.15,343.30 L278.65,337.40 L288.65,337.40 L293.15,343.30 L288.65,349.20 L278.65,349.20 Z M245.30,376.60 L249.80,370.70 L259.80,370.70 L264.30,376.60 L259.80,382.50 L249.80,382.50 Z M274.15,365.50 L278.65,359.60 L288.65,359.60 L293.15,365.50 L288.65,371.40 L278.65,371.40 Z M245.30,398.80 L249.80,392.90 L259.80,392.90 L264.30,398.80 L259.80,404.70 L249.80,404.70 Z M274.15,387.70 L278.65,381.80 L288.65,381.80 L293.15,387.70 L288.65,393.60 L278.65,393.60 Z M245.30,421.00 L249.80,415.10 L259.80,415.10 L264.30,421.00 L259.80,426.90 L249.80,426.90 Z M274.15,409.90 L278.65,404.00 L288.65,404.00 L293.15,409.90 L288.65,415.80 L278.65,415.80 Z M245.30,443.20 L249.80,437.30 L259.80,437.30 L264.30,443.20 L259.80,449.10 L249.80,449.10 Z M274.15,432.10 L278.65,426.20 L288.65,426.20 L293.15,432.10 L288.65,438.00 L278.65,438.00 Z M245.30,465.40 L249.80,459.50 L259.80,459.50 L264.30,465.40 L259.80,471.30 L249.80,471.30 Z M274.15,454.30 L278.65,448.40 L288.65,448.40 L293.15,454.30 L288.65,460.20 L278.65,460.20 Z M245.30,487.60 L249.80,481.70 L259.80,481.70 L264.30,487.60 L259.80,493.50 L249.80,493.50 Z M274.15,476.50 L278.65,470.60 L288.65,470.60 L293.15,476.50 L288.65,482.40 L278.65,482.40 Z M245.30,509.80 L249.80,503.90 L259.80,503.90 L264.30,509.80 L259.80,515.70 L249.80,515.70 Z M274.15,498.70 L278.65,492.80 L288.65,492.80 L293.15,498.70 L288.65,504.60 L278.65,504.60 Z M245.30,532.00 L249.80,526.10 L259.80,526.10 L264.30,532.00 L259.80,537.90 L249.80,537.90 Z M274.15,520.90 L278.65,515.00 L288.65,515.00 L293.15,520.90 L288.65,526.80 L278.65,526.80 Z M245.30,554.20 L249.80,548.30 L259.80,548.30 L264.30,554.20 L259.80,560.10 L249.80,560.10 Z M274.15,543.10 L278.65,537.20 L288.65,537.20 L293.15,543.10 L288.65,549.00 L278.65,549.00 Z M245.30,576.40 L249.80,570.50 L259.80,570.50 L264.30,576.40 L259.80,582.30 L249.80,582.30 Z M274.15,565.30 L278.65,559.40 L288.65,559.40 L293.15,565.30 L288.65,571.20 L278.65,571.20 Z M303.00,332.20 L307.50,326.30 L317.50,326.30 L322.00,332.20 L317.50,338.10 L307.50,338.10 Z M331.85,321.10 L336.35,315.20 L346.35,315.20 L350.85,321.10 L346.35,327.00 L336.35,327.00 Z M303.00,354.40 L307.50,348.50 L317.50,348.50 L322.00,354.40 L317.50,360.30 L307.50,360.30 Z M331.85,343.30 L336.35,337.40 L346.35,337.40 L350.85,343.30 L346.35,349.20 L336.35,349.20 Z M303.00,376.60 L307.50,370.70 L317.50,370.70 L322.00,376.60 L317.50,382.50 L307.50,382.50 Z M331.85,365.50 L336.35,359.60 L346.35,359.60 L350.85,365.50 L346.35,371.40 L336.35,371.40 Z M303.00,398.80 L307.50,392.90 L317.50,392.90 L322.00,398.80 L317.50,404.70 L307.50,404.70 Z M331.85,387.70 L336.35,381.80 L346.35,381.80 L350.85,387.70 L346.35,393.60 L336.35,393.60 Z M303.00,421.00 L307.50,415.10 L317.50,415.10 L322.00,421.00 L317.50,426.90 L307.50,426.90 Z M331.85,409.90 L336.35,404.00 L346.35,404.00 L350.85,409.90 L346.35,415.80 L336.35,415.80 Z M303.00,443.20 L307.50,437.30 L317.50,437.30 L322.00,443.20 L317.50,449.10 L307.50,449.10 Z M331.85,432.10 L336.35,426.20 L346.35,426.20 L350.85,432.10 L346.35,438.00 L336.35,438.00 Z M303.00,465.40 L307.50,459.50 L317.50,459.50 L322.00,465.40 L317.50,471.30 L307.50,471.30 Z M331.85,454.30 L336.35,448.40 L346.35,448.40 L350.85,454.30 L346.35,460.20 L336.35,460.20 Z M303.00,487.60 L307.50,481.70 L317.50,481.70 L322.00,487.60 L317.50,493.50 L307.50,493.50 Z M331.85,476.50 L336.35,470.60 L346.35,470.60 L350.85,476.50 L346.35,482.40 L336.35,482.40 Z M303.00,509.80 L307.50,503.90 L317.50,503.90 L322.00,509.80 L317.50,515.70 L307.50,515.70 Z M331.85,498.70 L336.35,492.80 L346.35,492.80 L350.85,498.70 L346.35,504.60 L336.35,504.60 Z M303.00,532.00 L307.50,526.10 L317.50,526.10 L322.00,532.00 L317.50,537.90 L307.50,537.90 Z M331.85,520.90 L336.35,515.00 L346.35,515.00 L350.85,520.90 L346.35,526.80 L336.35,526.80 Z M303.00,554.20 L307.50,548.30 L317.50,548.30 L322.00,554.20 L317.50,560.10 L307.50,560.10 Z M331.85,543.10 L336.35,537.20 L346.35,537.20 L350.85,543.10 L346.35,549.00 L336.35,549.00 Z M303.00,576.40 L307.50,570.50 L317.50,570.50 L322.00,576.40 L317.50,582.30 L307.50,582.30 Z M331.85,565.30 L336.35,559.40 L346.35,559.40 L350.85,565.30 L346.35,571.20 L336.35,571.20 Z M360.70,332.20 L365.20,326.30 L375.20,326.30 L379.70,332.20 L375.20,338.10 L365.20,338.10 Z M389.55,321.10 L394.05,315.20 L404.05,315.20 L408.55,321.10 L404.05,327.00 L394.05,327.00 Z M360.70,354.40 L365.20,348.50 L375.20,348.50 L379.70,354.40 L375.20,360.30 L365.20,360.30 Z M389.55,343.30 L394.05,337.40 L404.05,337.40 L408.55,343.30 L404.05,349.20 L394.05,349.20 Z M360.70,376.60 L365.20,370.70 L375.20,370.70 L379.70,376.60 L375.20,382.50 L365.20,382.50 Z M389.55,365.50 L394.05,359.60 L404.05,359.60 L408.55,365.50 L404.05,371.40 L394.05,371.40 Z M360.70,398.80 L365.20,392.90 L375.20,392.90 L379.70,398.80 L375.20,404.70 L365.20,404.70 Z M389.55,387.70 L394.05,381.80 L404.05,381.80 L408.55,387.70 L404.05,393.60 L394.05,393.60 Z M360.70,421.00 L365.20,415.10 L375.20,415.10 L379.70,421.00 L375.20,426.90 L365.20,426.90 Z M389.55,409.90 L394.05,404.00 L404.05,404.00 L408.55,409.90 L404.05,415.80 L394.05,415.80 Z M360.70,443.20 L365.20,437.30 L375.20,437.30 L379.70,443.20 L375.20,449.10 L365.20,449.10 Z M389.55,432.10 L394.05,426.20 L404.05,426.20 L408.55,432.10 L404.05,438.00 L394.05,438.00 Z M360.70,465.40 L365.20,459.50 L375.20,459.50 L379.70,465.40 L375.20,471.30 L365.20,471.30 Z M389.55,454.30 L394.05,448.40 L404.05,448.40 L408.55,454.30 L404.05,460.20 L394.05,460.20 Z M360.70,487.60 L365.20,481.70 L375.20,481.70 L379.70,487.60 L375.20,493.50 L365.20,493.50 Z M389.55,476.50 L394.05,470.60 L404.05,470.60 L408.55,476.50 L404.05,482.40 L394.05,482.40 Z M360.70,509.80 L365.20,503.90 L375.20,503.90 L379.70,509.80 L375.20,515.70 L365.20,515.70 Z M389.55,498.70 L394.05,492.80 L404.05,492.80 L408.55,498.70 L404.05,504.60 L394.05,504.60 Z M360.70,532.00 L365.20,526.10 L375.20,526.10 L379.70,532.00 L375.20,537.90 L365.20,537.90 Z M389.55,520.90 L394.05,515.00 L404.05,515.00 L408.55,520.90 L404.05,526.80 L394.05,526.80 Z M360.70,554.20 L365.20,548.30 L375.20,548.30 L379.70,554.20 L375.20,560.10 L365.20,560.10 Z M389.55,543.10 L394.05,537.20 L404.05,537.20 L408.55,543.10 L404.05,549.00 L394.05,549.00 Z M360.70,576.40 L365.20,570.50 L375.20,570.50 L379.70,576.40 L375.20,582.30 L365.20,582.30 Z M389.55,565.30 L394.05,559.40 L404.05,559.40 L408.55,565.30 L404.05,571.20 L394.05,571.20 Z M418.40,332.20 L422.90,326.30 L432.90,326.30 L437.40,332.20 L432.90,338.10 L422.90,338.10 Z M447.25,321.10 L451.75,315.20 L461.75,315.20 L466.25,321.10 L461.75,327.00 L451.75,327.00 Z M418.40,354.40 L422.90,348.50 L432.90,348.50 L437.40,354.40 L432.90,360.30 L422.90,360.30 Z M447.25,343.30 L451.75,337.40 L461.75,337.40 L466.25,343.30 L461.75,349.20 L451.75,349.20 Z M418.40,376.60 L422.90,370.70 L432.90,370.70 L437.40,376.60 L432.90,382.50 L422.90,382.50 Z M447.25,365.50 L451.75,359.60 L461.75,359.60 L466.25,365.50 L461.75,371.40 L451.75,371.40 Z M418.40,398.80 L422.90,392.90 L432.90,392.90 L437.40,398.80 L432.90,404.70 L422.90,404.70 Z M447.25,387.70 L451.75,381.80 L461.75,381.80 L466.25,387.70 L461.75,393.60 L451.75,393.60 Z M418.40,421.00 L422.90,415.10 L432.90,415.10 L437.40,421.00 L432.90,426.90 L422.90,426.90 Z M447.25,409.90 L451.75,404.00 L461.75,404.00 L466.25,409.90 L461.75,415.80 L451.75,415.80 Z M418.40,443.20 L422.90,437.30 L432.90,437.30 L437.40,443.20 L432.90,449.10 L422.90,449.10 Z M447.25,432.10 L451.75,426.20 L461.75,426.20 L466.25,432.10 L461.75,438.00 L451.75,438.00 Z M418.40,465.40 L422.90,459.50 L432.90,459.50 L437.40,465.40 L432.90,471.30 L422.90,471.30 Z M447.25,454.30 L451.75,448.40 L461.75,448.40 L466.25,454.30 L461.75,460.20 L451.75,460.20 Z M418.40,487.60 L422.90,481.70 L432.90,481.70 L437.40,487.60 L432.90,493.50 L422.90,493.50 Z M447.25,476.50 L451.75,470.60 L461.75,470.60 L466.25,476.50 L461.75,482.40 L451.75,482.40 Z M418.40,509.80 L422.90,503.90 L432.90,503.90 L437.40,509.80 L432.90,515.70 L422.90,515.70 Z M447.25,498.70 L451.75,492.80 L461.75,492.80 L466.25,498.70 L461.75,504.60 L451.75,504.60 Z M418.40,532.00 L422.90,526.10 L432.90,526.10 L437.40,532.00 L432.90,537.90 L422.90,537.90 Z M447.25,520.90 L451.75,515.00 L461.75,515.00 L466.25,520.90 L461.75,526.80 L451.75,526.80 Z M418.40,554.20 L422.90,548.30 L432.90,548.30 L437.40,554.20 L432.90,560.10 L422.90,560.10 Z M447.25,543.10 L451.75,537.20 L461.75,537.20 L466.25,543.10 L461.75,549.00 L451.75,549.00 Z M418.40,576.40 L422.90,570.50 L432.90,570.50 L437.40,576.40 L432.90,582.30 L422.90,582.30 Z M447.25,565.30 L451.75,559.40 L461.75,559.40 L466.25,565.30 L461.75,571.20 L451.75,571.20 Z" fill="none" stroke="#dda7b1" stroke-width="1.3" stroke-linejoin="round"/>
<path d="M11.3,341 H363.2" stroke="#5e5e5e" stroke-width="1.4"/>
<path d="M11.3,543 H363.2" stroke="#5e5e5e" stroke-width="1.4"/>
<rect x="11.3" y="470.2" width="351.9" height="4.8" fill="#ea3a14"/>
<path clip-path="url(#cBot)" d="M-58.00,551.70 L-52.30,548.30 L-23.50,548.30 L-17.90,545.10 M-0.50,551.70 L5.20,548.30 L34.00,548.30 L39.60,545.10 M57.00,551.70 L62.70,548.30 L91.50,548.30 L97.10,545.10 M114.50,551.70 L120.20,548.30 L149.00,548.30 L154.60,545.10 M172.00,551.70 L177.70,548.30 L206.50,548.30 L212.10,545.10 M229.50,551.70 L235.20,548.30 L264.00,548.30 L269.60,545.10 M287.00,551.70 L292.70,548.30 L321.50,548.30 L327.10,545.10 M344.50,551.70 L350.20,548.30 L379.00,548.30 L384.60,545.10 M402.00,551.70 L407.70,548.30 L436.50,548.30 L442.10,545.10 M-58.00,571.00 L-52.30,567.60 L-23.50,567.60 L-17.90,564.40 M-0.50,571.00 L5.20,567.60 L34.00,567.60 L39.60,564.40 M57.00,571.00 L62.70,567.60 L91.50,567.60 L97.10,564.40 M114.50,571.00 L120.20,567.60 L149.00,567.60 L154.60,564.40 M172.00,571.00 L177.70,567.60 L206.50,567.60 L212.10,564.40 M229.50,571.00 L235.20,567.60 L264.00,567.60 L269.60,564.40 M287.00,571.00 L292.70,567.60 L321.50,567.60 L327.10,564.40 M344.50,571.00 L350.20,567.60 L379.00,567.60 L384.60,564.40 M402.00,571.00 L407.70,567.60 L436.50,567.60 L442.10,564.40 M-58.00,590.30 L-52.30,586.90 L-23.50,586.90 L-17.90,583.70 M-0.50,590.30 L5.20,586.90 L34.00,586.90 L39.60,583.70 M57.00,590.30 L62.70,586.90 L91.50,586.90 L97.10,583.70 M114.50,590.30 L120.20,586.90 L149.00,586.90 L154.60,583.70 M172.00,590.30 L177.70,586.90 L206.50,586.90 L212.10,583.70 M229.50,590.30 L235.20,586.90 L264.00,586.90 L269.60,583.70 M287.00,590.30 L292.70,586.90 L321.50,586.90 L327.10,583.70 M344.50,590.30 L350.20,586.90 L379.00,586.90 L384.60,583.70 M402.00,590.30 L407.70,586.90 L436.50,586.90 L442.10,583.70 M-58.00,609.60 L-52.30,606.20 L-23.50,606.20 L-17.90,603.00 M-0.50,609.60 L5.20,606.20 L34.00,606.20 L39.60,603.00 M57.00,609.60 L62.70,606.20 L91.50,606.20 L97.10,603.00 M114.50,609.60 L120.20,606.20 L149.00,606.20 L154.60,603.00 M172.00,609.60 L177.70,606.20 L206.50,606.20 L212.10,603.00 M229.50,609.60 L235.20,606.20 L264.00,606.20 L269.60,603.00 M287.00,609.60 L292.70,606.20 L321.50,606.20 L327.10,603.00 M344.50,609.60 L350.20,606.20 L379.00,606.20 L384.60,603.00 M402.00,609.60 L407.70,606.20 L436.50,606.20 L442.10,603.00 M-58.00,628.90 L-52.30,625.50 L-23.50,625.50 L-17.90,622.30 M-0.50,628.90 L5.20,625.50 L34.00,625.50 L39.60,622.30 M57.00,628.90 L62.70,625.50 L91.50,625.50 L97.10,622.30 M114.50,628.90 L120.20,625.50 L149.00,625.50 L154.60,622.30 M172.00,628.90 L177.70,625.50 L206.50,625.50 L212.10,622.30 M229.50,628.90 L235.20,625.50 L264.00,625.50 L269.60,622.30 M287.00,628.90 L292.70,625.50 L321.50,625.50 L327.10,622.30 M344.50,628.90 L350.20,625.50 L379.00,625.50 L384.60,622.30 M402.00,628.90 L407.70,625.50 L436.50,625.50 L442.10,622.30 M-58.00,648.20 L-52.30,644.80 L-23.50,644.80 L-17.90,641.60 M-0.50,648.20 L5.20,644.80 L34.00,644.80 L39.60,641.60 M57.00,648.20 L62.70,644.80 L91.50,644.80 L97.10,641.60 M114.50,648.20 L120.20,644.80 L149.00,644.80 L154.60,641.60 M172.00,648.20 L177.70,644.80 L206.50,644.80 L212.10,641.60 M229.50,648.20 L235.20,644.80 L264.00,644.80 L269.60,641.60 M287.00,648.20 L292.70,644.80 L321.50,644.80 L327.10,641.60 M344.50,648.20 L350.20,644.80 L379.00,644.80 L384.60,641.60 M402.00,648.20 L407.70,644.80 L436.50,644.80 L442.10,641.60 M-58.00,667.50 L-52.30,664.10 L-23.50,664.10 L-17.90,660.90 M-0.50,667.50 L5.20,664.10 L34.00,664.10 L39.60,660.90 M57.00,667.50 L62.70,664.10 L91.50,664.10 L97.10,660.90 M114.50,667.50 L120.20,664.10 L149.00,664.10 L154.60,660.90 M172.00,667.50 L177.70,664.10 L206.50,664.10 L212.10,660.90 M229.50,667.50 L235.20,664.10 L264.00,664.10 L269.60,660.90 M287.00,667.50 L292.70,664.10 L321.50,664.10 L327.10,660.90 M344.50,667.50 L350.20,664.10 L379.00,664.10 L384.60,660.90 M402.00,667.50 L407.70,664.10 L436.50,664.10 L442.10,660.90 M-58.00,686.80 L-52.30,683.40 L-23.50,683.40 L-17.90,680.20 M-0.50,686.80 L5.20,683.40 L34.00,683.40 L39.60,680.20 M57.00,686.80 L62.70,683.40 L91.50,683.40 L97.10,680.20 M114.50,686.80 L120.20,683.40 L149.00,683.40 L154.60,680.20 M172.00,686.80 L177.70,683.40 L206.50,683.40 L212.10,680.20 M229.50,686.80 L235.20,683.40 L264.00,683.40 L269.60,680.20 M287.00,686.80 L292.70,683.40 L321.50,683.40 L327.10,680.20 M344.50,686.80 L350.20,683.40 L379.00,683.40 L384.60,680.20 M402.00,686.80 L407.70,683.40 L436.50,683.40 L442.10,680.20" fill="none" stroke="#a3a3a9" stroke-width="1.4"/>
<path d="M11.3,35 C40,25 90,13.6 140,13.3 C195,13 250,24 300,32.5 C320,36 340,38.5 357,40.3" fill="none" stroke="#1a1a1a" stroke-width="1.9" stroke-dasharray="45 11" stroke-dashoffset="32.4"/>
<path transform="translate(0,638.6)" d="M11.3,35 C40,25 90,13.6 140,13.3 C195,13 250,24 300,32.5 C320,36 340,38.5 357,40.3" fill="none" stroke="#1a1a1a" stroke-width="2.1" stroke-dasharray="45 11" stroke-dashoffset="32.4"/>
</g>
<line x1="320.5" y1="48.8" x2="450" y2="28.5" stroke="#000" stroke-width="1.85"/>
<circle cx="320.5" cy="48.8" r="5.9" fill="#000"/>
<line x1="320.5" y1="69.0" x2="450" y2="60.8" stroke="#000" stroke-width="1.85"/>
<circle cx="320.5" cy="69.0" r="5.9" fill="#000"/>
<line x1="320.5" y1="95" x2="450" y2="95" stroke="#000" stroke-width="1.85"/>
<circle cx="320.5" cy="95" r="5.9" fill="#000"/>
<line x1="320.5" y1="134.1" x2="450" y2="137.8" stroke="#000" stroke-width="1.85"/>
<circle cx="320.5" cy="134.1" r="5.9" fill="#000"/>
<line x1="320.5" y1="186" x2="450" y2="186" stroke="#000" stroke-width="1.85"/>
<circle cx="320.5" cy="186" r="5.9" fill="#000"/>
<line x1="320.5" y1="221.2" x2="450" y2="228" stroke="#000" stroke-width="1.85"/>
<circle cx="320.5" cy="221.2" r="5.9" fill="#000"/>
<line x1="320.5" y1="240.6" x2="450" y2="263" stroke="#000" stroke-width="1.85"/>
<circle cx="320.5" cy="240.6" r="5.9" fill="#000"/>
<line x1="320.5" y1="301.2" x2="450" y2="327.5" stroke="#000" stroke-width="1.85"/>
<circle cx="320.5" cy="301.2" r="5.9" fill="#000"/>
<line x1="320.5" y1="426.2" x2="450" y2="426.2" stroke="#000" stroke-width="1.85"/>
<circle cx="320.5" cy="426.2" r="5.9" fill="#000"/>
<line x1="320.5" y1="473" x2="450" y2="473" stroke="#000" stroke-width="1.85"/>
<circle cx="320.5" cy="473" r="5.9" fill="#000"/>
<line x1="320.5" y1="575.5" x2="450" y2="575.5" stroke="#000" stroke-width="1.85"/>
<circle cx="320.5" cy="575.5" r="5.9" fill="#000"/>
<defs>
<clipPath id="cMid"><rect x="0" y="-14.149999999999999" width="1000" height="15.2"/></clipPath>
<clipPath id="cHi"><rect x="0" y="-40" width="1000" height="26.3"/></clipPath>
<clipPath id="cLo"><rect x="0" y="0.6" width="1000" height="20"/></clipPath>
</defs>
<g stroke="#fff" stroke-width="0.5" fill="#161616">
<g transform="translate(0,31.95)">
<defs>
<text id="t1" transform="translate(541.40,0) scale(1.0000,0.94)" font-size="26.5" letter-spacing="0.303">waste</text>
<text id="t2" transform="translate(620.69,0) scale(1.0057,0.94)" font-size="26.5" letter-spacing="0.800">in</text>
<text id="t3" transform="translate(651.80,0) scale(1.1061,0.94)" font-size="26.5" letter-spacing="0.800">top</text>
<text id="t4" transform="translate(703.00,0) scale(1.0000,0.94)" font-size="26.5" letter-spacing="0.746">sect</text>
<text id="t5" transform="translate(754.58,0) scale(1.0000,0.94)" font-size="26.5" letter-spacing="0.746">ion</text>
</defs>
<g clip-path="url(#cMid)"><use href="#t1"/><use href="#t2"/><use href="#t3"/><use href="#t4"/><use href="#t5"/></g>
<g clip-path="url(#cHi)"><g transform="translate(0,4.795) scale(1,1.35)"><use href="#t1"/><use href="#t3"/><use href="#t4"/></g></g>
<g clip-path="url(#cHi)"><use href="#t2"/><use href="#t5"/></g>
<g clip-path="url(#cLo)"><use href="#t1"/><use href="#t2"/><use href="#t4"/><use href="#t5"/></g>
<g clip-path="url(#cLo)"><g transform="translate(0,-0.360) scale(1,1.6)"><use href="#t3"/></g></g>
<text transform="translate(462.10,0) scale(1.0490,1.115)" font-size="26.5" letter-spacing="0.800">DK</text>
<text transform="translate(508.98,0) scale(1.0091,1.115)" font-size="26.5" letter-spacing="0.800">III</text>
</g>
<g transform="translate(0,68.8)">
<defs>
<text id="t6" transform="translate(464.41,0) scale(1.0065,0.94)" font-size="26.5" letter-spacing="0.800">weat</text>
<text id="t7" transform="translate(523.96,0) scale(1.0065,0.94)" font-size="26.5" letter-spacing="0.800">her</text>
<text id="t8" transform="translate(571.75,0) scale(1.0547,0.94)" font-size="26.5" letter-spacing="0.800">protect</text>
<text id="t9" transform="translate(663.09,0) scale(1.0547,0.94)" font-size="26.5" letter-spacing="0.800">ion</text>
<text id="t10" transform="translate(710.99,0) scale(1.0124,0.94)" font-size="26.5" letter-spacing="0.800">l</text>
<text id="t11" transform="translate(717.76,0) scale(1.0124,0.94)" font-size="26.5" letter-spacing="0.800">iner</text>
</defs>
<g clip-path="url(#cMid)"><use href="#t6"/><use href="#t7"/><use href="#t8"/><use href="#t9"/><use href="#t10"/><use href="#t11"/></g>
<g clip-path="url(#cHi)"><g transform="translate(0,4.795) scale(1,1.35)"><use href="#t6"/><use href="#t8"/></g></g>
<g clip-path="url(#cHi)"><g transform="translate(0,12.056) scale(1,1.88)"><use href="#t7"/><use href="#t10"/></g></g>
<g clip-path="url(#cHi)"><use href="#t9"/><use href="#t11"/></g>
<g clip-path="url(#cLo)"><use href="#t6"/><use href="#t7"/><use href="#t9"/><use href="#t10"/><use href="#t11"/></g>
<g clip-path="url(#cLo)"><g transform="translate(0,-0.360) scale(1,1.6)"><use href="#t8"/></g></g>
</g>
<g transform="translate(0,104.7)">
<defs>
<text id="t12" transform="translate(494.75,0) scale(1.0514,0.94)" font-size="26.5" letter-spacing="0.800">cm</text>
<text id="t13" transform="translate(539.75,0) scale(1.0461,0.94)" font-size="26.5" letter-spacing="0.800">protect</text>
<text id="t14" transform="translate(630.36,0) scale(1.0461,0.94)" font-size="26.5" letter-spacing="0.800">ive</text>
<text id="t15" transform="translate(676.80,0) scale(1.0000,0.94)" font-size="26.5" letter-spacing="0.572">layer</text>
</defs>
<g clip-path="url(#cMid)"><use href="#t12"/><use href="#t13"/><use href="#t14"/><use href="#t15"/></g>
<g clip-path="url(#cHi)"><use href="#t12"/><use href="#t14"/></g>
<g clip-path="url(#cHi)"><g transform="translate(0,4.795) scale(1,1.35)"><use href="#t13"/></g></g>
<g clip-path="url(#cHi)"><g transform="translate(0,12.056) scale(1,1.88)"><use href="#t15"/></g></g>
<g clip-path="url(#cLo)"><use href="#t12"/><use href="#t14"/></g>
<g clip-path="url(#cLo)"><g transform="translate(0,-0.360) scale(1,1.6)"><use href="#t13"/></g></g>
<g clip-path="url(#cLo)"><g transform="translate(0,-0.162) scale(1,1.27)"><use href="#t15"/></g></g>
<text transform="translate(462.75,0) scale(1.0477,1.09)" font-size="26.5" letter-spacing="0.800">30</text>
</g>
<g transform="translate(0,141.0)">
<defs>
<text id="t16" transform="translate(463.40,0) scale(1.0386,0.94)" font-size="26.5" letter-spacing="0.800">f</text>
<text id="t17" transform="translate(471.88,0) scale(1.0386,0.94)" font-size="26.5" letter-spacing="0.800">i</text>
<text id="t18" transform="translate(478.82,0) scale(1.0386,0.94)" font-size="26.5" letter-spacing="0.800">bre</text>
<text id="t19" transform="translate(527.54,0) scale(1.0636,0.94)" font-size="26.5" letter-spacing="0.800">mat</text>
</defs>
<g clip-path="url(#cMid)"><use href="#t16"/><use href="#t17"/><use href="#t18"/><use href="#t19"/></g>
<g clip-path="url(#cHi)"><g transform="translate(0,12.056) scale(1,1.88)"><use href="#t16"/><use href="#t18"/></g></g>
<g clip-path="url(#cHi)"><use href="#t17"/></g>
<g clip-path="url(#cHi)"><g transform="translate(0,4.795) scale(1,1.35)"><use href="#t19"/></g></g>
<g clip-path="url(#cLo)"><use href="#t16"/><use href="#t17"/><use href="#t18"/><use href="#t19"/></g>
</g>
<g transform="translate(0,194.0)">
<defs>
<text id="t20" transform="translate(535.61,0) scale(1.0925,0.94)" font-size="26.5" letter-spacing="0.800">cm</text>
<text id="t21" transform="translate(581.37,0) scale(1.0327,0.94)" font-size="26.5" letter-spacing="0.800">dra</text>
<text id="t22" transform="translate(623.40,0) scale(1.0327,0.94)" font-size="26.5" letter-spacing="0.800">inage</text>
<text id="t23" transform="translate(703.00,0) scale(1.0000,0.94)" font-size="26.5" letter-spacing="0.547">layer</text>
</defs>
<g clip-path="url(#cMid)"><use href="#t20"/><use href="#t21"/><use href="#t22"/><use href="#t23"/></g>
<g clip-path="url(#cHi)"><use href="#t20"/><use href="#t22"/></g>
<g clip-path="url(#cHi)"><g transform="translate(0,12.056) scale(1,1.88)"><use href="#t21"/><use href="#t23"/></g></g>
<g clip-path="url(#cLo)"><use href="#t20"/><use href="#t21"/></g>
<g clip-path="url(#cLo)"><g transform="translate(0,-0.162) scale(1,1.27)"><use href="#t22"/><use href="#t23"/></g></g>
<text transform="translate(462.65,0) scale(1.0476,1.09)" font-size="26.5" letter-spacing="0.800">30/50</text>
</g>
<g transform="translate(0,238.0)">
<defs>
<text id="t24" transform="translate(463.20,0) scale(1.0000,0.94)" font-size="26.5" letter-spacing="0.461">protect</text>
<text id="t25" transform="translate(547.44,0) scale(1.0000,0.94)" font-size="26.5" letter-spacing="0.461">ive</text>
<text id="t26" transform="translate(590.60,0) scale(1.0000,0.94)" font-size="26.5" letter-spacing="0.122">layer</text>
<text id="t27" transform="translate(655.00,0) scale(1.0000,0.94)" font-size="26.5" letter-spacing="0.783">made</text>
<text id="t28" transform="translate(730.16,0) scale(1.0427,0.94)" font-size="26.5" letter-spacing="0.800">of</text>
<text id="t29" transform="translate(761.00,0) scale(1.0000,0.94)" font-size="26.5" letter-spacing="0.300">compressed</text>
<text id="t30" transform="translate(915.40,0) scale(1.0000,0.94)" font-size="26.5" letter-spacing="-0.142">sand</text>
</defs>
<g clip-path="url(#cMid)"><use href="#t24"/><use href="#t25"/><use href="#t26"/><use href="#t27"/><use href="#t28"/><use href="#t29"/><use href="#t30"/></g>
<g clip-path="url(#cHi)"><g transform="translate(0,4.795) scale(1,1.35)"><use href="#t24"/></g></g>
<g clip-path="url(#cHi)"><use href="#t25"/></g>
<g clip-path="url(#cHi)"><g transform="translate(0,12.056) scale(1,1.88)"><use href="#t26"/><use href="#t27"/><use href="#t28"/><use href="#t29"/><use href="#t30"/></g></g>
<g clip-path="url(#cLo)"><g transform="translate(0,-0.360) scale(1,1.6)"><use href="#t24"/><use href="#t29"/></g></g>
<g clip-path="url(#cLo)"><use href="#t25"/><use href="#t27"/><use href="#t28"/><use href="#t30"/></g>
<g clip-path="url(#cLo)"><g transform="translate(0,-0.162) scale(1,1.27)"><use href="#t26"/></g></g>
</g>
<g transform="translate(0,274.6)">
<defs>
<text id="t31" transform="translate(502.53,0) scale(1.0706,0.94)" font-size="26.5" letter-spacing="0.800">mm</text>
<text id="t32" transform="translate(641.20,0) scale(1.0030,0.94)" font-size="26.5" letter-spacing="0.800">plas</text>
<text id="t33" transform="translate(693.17,0) scale(1.0030,0.94)" font-size="26.5" letter-spacing="0.800">t</text>
<text id="t34" transform="translate(701.35,0) scale(1.0030,0.94)" font-size="26.5" letter-spacing="0.800">ic</text>
<text id="t35" transform="translate(731.00,0) scale(1.0000,0.94)" font-size="26.5" letter-spacing="0.543">seal</text>
<text id="t36" transform="translate(781.79,0) scale(1.0000,0.94)" font-size="26.5" letter-spacing="0.543">ing</text>
<text id="t37" transform="translate(827.58,0) scale(1.0200,0.94)" font-size="26.5" letter-spacing="0.800">l</text>
<text id="t38" transform="translate(834.40,0) scale(1.0200,0.94)" font-size="26.5" letter-spacing="0.800">iner</text>
<text id="t39" transform="translate(890.03,0) scale(1.0344,0.94)" font-size="26.5" letter-spacing="0.800">wi</text>
<text id="t40" transform="translate(917.58,0) scale(1.0344,0.94)" font-size="26.5" letter-spacing="0.800">t</text>
<text id="t41" transform="translate(926.02,0) scale(1.0344,0.94)" font-size="26.5" letter-spacing="0.800">h</text>
</defs>
<g clip-path="url(#cMid)"><use href="#t31"/><use href="#t32"/><use href="#t33"/><use href="#t34"/><use href="#t35"/><use href="#t36"/><use href="#t37"/><use href="#t38"/><use href="#t39"/><use href="#t40"/><use href="#t41"/></g>
<g clip-path="url(#cHi)"><use href="#t31"/><use href="#t34"/><use href="#t36"/><use href="#t38"/><use href="#t39"/></g>
<g clip-path="url(#cHi)"><g transform="translate(0,12.056) scale(1,1.88)"><use href="#t32"/><use href="#t35"/><use href="#t37"/><use href="#t41"/></g></g>
<g clip-path="url(#cHi)"><g transform="translate(0,4.795) scale(1,1.35)"><use href="#t33"/><use href="#t40"/></g></g>
<g clip-path="url(#cLo)"><use href="#t31"/><use href="#t33"/><use href="#t34"/><use href="#t35"/><use href="#t37"/><use href="#t38"/><use href="#t39"/><use href="#t40"/><use href="#t41"/></g>
<g clip-path="url(#cLo)"><g transform="translate(0,-0.360) scale(1,1.6)"><use href="#t32"/></g></g>
<g clip-path="url(#cLo)"><g transform="translate(0,-0.162) scale(1,1.27)"><use href="#t36"/></g></g>
<text transform="translate(462.56,0) scale(1.0436,1.09)" font-size="26.5" letter-spacing="0.800">2.5</text>
<text transform="translate(558.60,0) scale(1.0000,1.115)" font-size="26.5" letter-spacing="0.404">PEHD</text>
</g>
<g transform="translate(0,299.4)">
<defs>
<text id="t42" transform="translate(464.00,0) scale(1.0000,0.94)" font-size="26.5" letter-spacing="0.735">leakage</text>
<text id="t43" transform="translate(570.37,0) scale(1.0321,0.94)" font-size="26.5" letter-spacing="0.800">contro</text>
<text id="t44" transform="translate(651.34,0) scale(1.0321,0.94)" font-size="26.5" letter-spacing="0.800">l</text>
<text id="t45" transform="translate(665.80,0) scale(1.0000,0.94)" font-size="26.5" letter-spacing="0.650">system</text>
</defs>
<g clip-path="url(#cMid)"><use href="#t42"/><use href="#t43"/><use href="#t44"/><use href="#t45"/></g>
<g clip-path="url(#cHi)"><g transform="translate(0,12.056) scale(1,1.88)"><use href="#t42"/><use href="#t44"/></g></g>
<g clip-path="url(#cHi)"><g transform="translate(0,4.795) scale(1,1.35)"><use href="#t43"/><use href="#t45"/></g></g>
<g clip-path="url(#cLo)"><g transform="translate(0,-0.162) scale(1,1.27)"><use href="#t42"/><use href="#t45"/></g></g>
<g clip-path="url(#cLo)"><use href="#t43"/><use href="#t44"/></g>
</g>
<g transform="translate(0,335.4)">
<defs>
<text id="t46" transform="translate(494.56,0) scale(1.0396,0.94)" font-size="26.5" letter-spacing="0.800">cm</text>
<text id="t47" transform="translate(538.77,0) scale(1.0323,0.94)" font-size="26.5" letter-spacing="0.800">minera</text>
<text id="t48" transform="translate(627.34,0) scale(1.0323,0.94)" font-size="26.5" letter-spacing="0.800">l</text>
<text id="t49" transform="translate(641.40,0) scale(1.0000,0.94)" font-size="26.5" letter-spacing="0.446">seal</text>
<text id="t50" transform="translate(691.80,0) scale(1.0000,0.94)" font-size="26.5" letter-spacing="0.446">ing,</text>
<text id="t51" transform="translate(746.41,0) scale(0.9923,0.94)" font-size="26.5" letter-spacing="0.000">k</text>
<text id="t52" transform="translate(767.82,0) scale(1.1786,0.94)" font-size="26.5" letter-spacing="0.000">=</text>
<text id="t53" transform="translate(885.53,0) scale(1.0665,0.94)" font-size="26.5" letter-spacing="0.800">m</text>
<text id="t54" transform="translate(918.64,0) scale(1.0665,0.94)" font-size="26.5" letter-spacing="0.800">s</text>
</defs>
<g clip-path="url(#cMid)"><use href="#t46"/><use href="#t47"/><use href="#t48"/><use href="#t49"/><use href="#t50"/><use href="#t51"/><use href="#t52"/><use href="#t53"/><use href="#t54"/></g>
<g clip-path="url(#cHi)"><use href="#t46"/><use href="#t47"/><use href="#t50"/><use href="#t52"/><use href="#t53"/><use href="#t54"/></g>
<g clip-path="url(#cHi)"><g transform="translate(0,12.056) scale(1,1.88)"><use href="#t48"/><use href="#t49"/><use href="#t51"/></g></g>
<g clip-path="url(#cLo)"><use href="#t46"/><use href="#t47"/><use href="#t48"/><use href="#t49"/><use href="#t51"/><use href="#t52"/><use href="#t53"/><use href="#t54"/></g>
<g clip-path="url(#cLo)"><g transform="translate(0,-0.162) scale(1,1.27)"><use href="#t50"/></g></g>
<text transform="translate(462.55,0) scale(1.0512,1.09)" font-size="26.5" letter-spacing="0.800">50</text>
<text transform="translate(794.18,0) scale(1.0203,1.09)" font-size="26.5" letter-spacing="0.800">5.10</text>
<text transform="translate(909.93,0) scale(1.0665,1.09)" font-size="26.5" letter-spacing="0.800">/</text>
</g>
<g transform="translate(0,432.7)">
<defs>
<text id="t55" transform="translate(510.05,0) scale(1.0455,0.94)" font-size="26.5" letter-spacing="0.800">cm</text>
<text id="t56" transform="translate(554.78,0) scale(1.0191,0.94)" font-size="26.5" letter-spacing="0.800">gas</text>
<text id="t57" transform="translate(606.77,0) scale(1.0308,0.94)" font-size="26.5" letter-spacing="0.800">dra</text>
<text id="t58" transform="translate(648.72,0) scale(1.0308,0.94)" font-size="26.5" letter-spacing="0.800">inage</text>
<text id="t59" transform="translate(726.76,0) scale(1.0414,0.94)" font-size="26.5" letter-spacing="0.800">and</text>
<text id="t60" transform="translate(783.38,0) scale(1.0208,0.94)" font-size="26.5" letter-spacing="0.800">levell</text>
<text id="t61" transform="translate(849.92,0) scale(1.0208,0.94)" font-size="26.5" letter-spacing="0.800">ing</text>
<text id="t62" transform="translate(896.80,0) scale(1.0000,0.94)" font-size="26.5" letter-spacing="0.725">base</text>
</defs>
<g clip-path="url(#cMid)"><use href="#t55"/><use href="#t56"/><use href="#t57"/><use href="#t58"/><use href="#t59"/><use href="#t60"/><use href="#t61"/><use href="#t62"/></g>
<g clip-path="url(#cHi)"><use href="#t55"/><use href="#t56"/><use href="#t58"/><use href="#t61"/></g>
<g clip-path="url(#cHi)"><g transform="translate(0,12.056) scale(1,1.88)"><use href="#t57"/><use href="#t59"/><use href="#t60"/><use href="#t62"/></g></g>
<g clip-path="url(#cLo)"><use href="#t55"/><use href="#t57"/><use href="#t59"/><use href="#t60"/><use href="#t62"/></g>
<g clip-path="url(#cLo)"><g transform="translate(0,-0.162) scale(1,1.27)"><use href="#t56"/><use href="#t58"/><use href="#t61"/></g></g>
<text transform="translate(463.32,0) scale(1.0400,1.09)" font-size="26.5" letter-spacing="0.800">100</text>
</g>
<g transform="translate(0,480.9)">
<defs>
<text id="t63" transform="translate(462.32,0) scale(1.0835,0.94)" font-size="26.5" letter-spacing="0.800">geogri</text>
<text id="t64" transform="translate(547.33,0) scale(1.0835,0.94)" font-size="26.5" letter-spacing="0.800">d</text>
</defs>
<g clip-path="url(#cMid)"><use href="#t63"/><use href="#t64"/></g>
<g clip-path="url(#cHi)"><use href="#t63"/></g>
<g clip-path="url(#cHi)"><g transform="translate(0,12.056) scale(1,1.88)"><use href="#t64"/></g></g>
<g clip-path="url(#cLo)"><g transform="translate(0,-0.162) scale(1,1.27)"><use href="#t63"/></g></g>
<g clip-path="url(#cLo)"><use href="#t64"/></g>
</g>
<g transform="translate(0,574.7)">
<defs>
<text id="t65" transform="translate(464.20,0) scale(1.0049,0.94)" font-size="26.5" letter-spacing="0.800">waste</text>
<text id="t66" transform="translate(537.79,0) scale(1.0049,0.94)" font-size="26.5" letter-spacing="0.800">body</text>
<text id="t67" transform="translate(607.36,0) scale(1.0397,0.94)" font-size="26.5" letter-spacing="0.800">undernea</text>
<text id="t68" transform="translate(730.46,0) scale(1.0397,0.94)" font-size="26.5" letter-spacing="0.800">t</text>
<text id="t69" transform="translate(738.94,0) scale(1.0397,0.94)" font-size="26.5" letter-spacing="0.800">h</text>
</defs>
<g clip-path="url(#cMid)"><use href="#t65"/><use href="#t66"/><use href="#t67"/><use href="#t68"/><use href="#t69"/></g>
<g clip-path="url(#cHi)"><g transform="translate(0,4.795) scale(1,1.35)"><use href="#t65"/><use href="#t68"/></g></g>
<g clip-path="url(#cHi)"><g transform="translate(0,12.056) scale(1,1.88)"><use href="#t66"/><use href="#t67"/><use href="#t69"/></g></g>
<g clip-path="url(#cLo)"><use href="#t65"/><use href="#t67"/><use href="#t68"/><use href="#t69"/></g>
<g clip-path="url(#cLo)"><g transform="translate(0,-0.162) scale(1,1.27)"><use href="#t66"/></g></g>
<text transform="translate(761.39,0) scale(1.0116,1.115)" font-size="26.5" letter-spacing="0.800">(DK</text>
<text transform="translate(814.40,0) scale(1.0000,1.115)" font-size="26.5" letter-spacing="0.337">III)</text>
</g>
</g>
<g stroke="#fff" stroke-width="0.2" fill="#222">
<g transform="translate(0,325.8)">
<text x="855.00" y="0" font-size="15.6" letter-spacing="0.417">-10</text>
</g>
</g>
</svg></body></html>
